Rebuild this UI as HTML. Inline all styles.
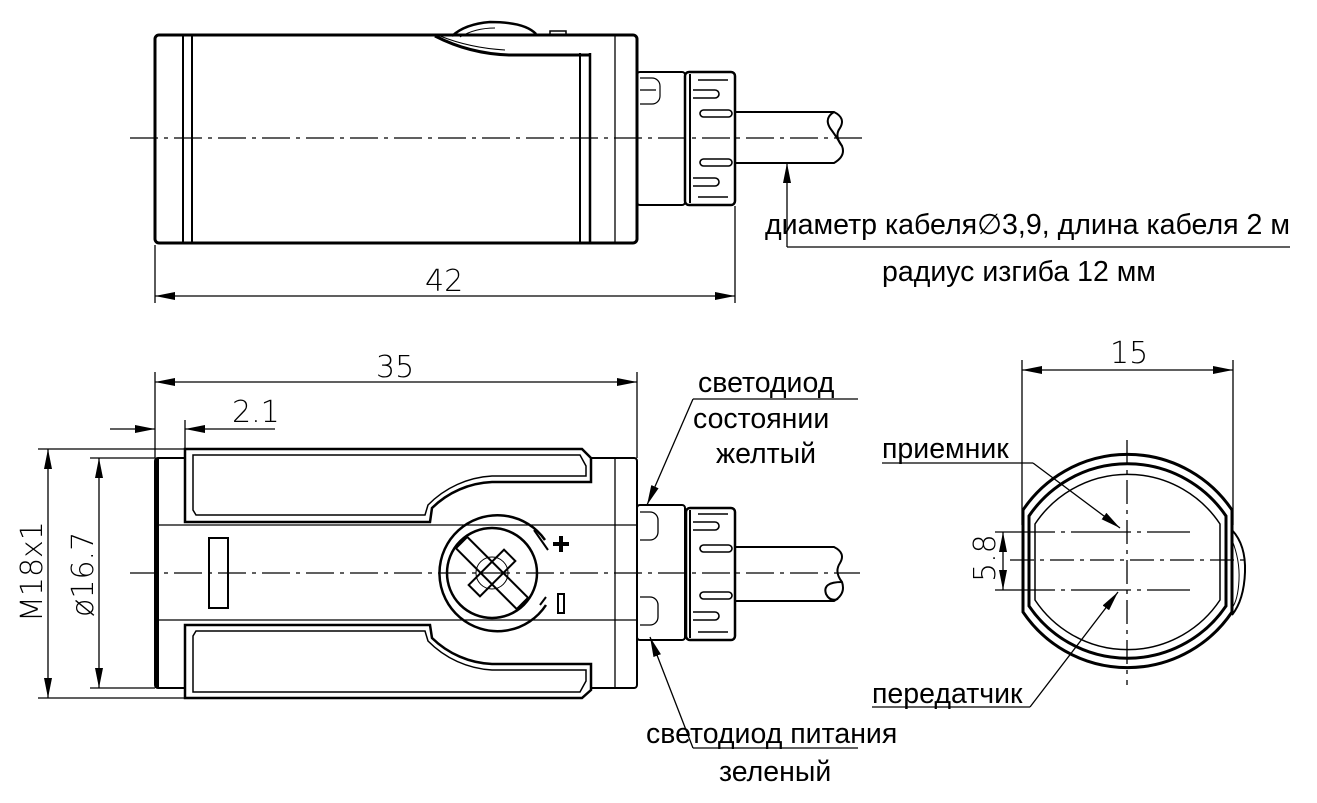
<!DOCTYPE html>
<html><head><meta charset="utf-8"><style>
html,body{margin:0;padding:0;background:#fff;}
svg{display:block;}
text{font-family:"Liberation Sans","DejaVu Sans",sans-serif;fill:#000;}
.t{font-size:28.5px;}
.d{font-size:30px;font-family:"DejaVu Sans","Liberation Sans",sans-serif;font-weight:200;}
</style></head><body>
<svg width="1317" height="803" viewBox="0 0 1317 803" xmlns="http://www.w3.org/2000/svg">
<defs>
<marker id="a" viewBox="0 0 20 8" refX="20" refY="4" markerWidth="20" markerHeight="8" markerUnits="userSpaceOnUse" orient="auto-start-reverse"><path d="M0,0 L20,4 L0,8 Z" fill="#000"/></marker>
</defs>
<g fill="none" stroke="#000" stroke-width="1.3">
<rect x="155" y="35" width="482" height="208" rx="4" stroke-width="3"/>
<line x1="183" y1="36" x2="183" y2="242" stroke-width="2"/>
<line x1="192" y1="36" x2="192" y2="242" stroke-width="2"/>
<line x1="580" y1="53" x2="580" y2="242" stroke-width="2"/>
<line x1="590" y1="53" x2="590" y2="242" stroke-width="2.5"/>
<line x1="615" y1="36" x2="615" y2="242"/>
<path d="M435,36 Q470,54 510,55 L590,55" stroke-width="3"/>
<path d="M440,36 Q470,48 505,50" stroke-width="1"/>
<path d="M452,36 Q465,24 490,22 Q525,22 536,34" stroke-width="2.5"/>
<path d="M460,37 Q475,28 495,28" stroke-width="1"/>
<rect x="550" y="31" width="16" height="4" stroke-width="1.5"/>
<rect x="637" y="72" width="48" height="133" rx="3" stroke-width="2"/>
<path d="M640,78 h12 a8,8 0 0 1 8,8 v10 a8,8 0 0 1 -8,8 h-12" stroke-width="1.2"/>
<line x1="640" y1="90" x2="656" y2="90"/>
<rect x="685" y="72" width="50" height="133" rx="4" stroke-width="2.5"/>
<line x1="690" y1="74" x2="690" y2="203" stroke-width="2"/>
<g stroke-width="1.6">
<path d="M698,80 h30"/><path d="M693,90 h22 a4,4 0 0 1 0,8 h-22"/>
<rect x="700" y="110" width="32" height="7" rx="3.5"/>
<rect x="700" y="159" width="32" height="7" rx="3.5"/>
<path d="M693,178 h22 a4,4 0 0 1 0,8 h-22"/><path d="M698,197 h30"/>
</g>
<path d="M735,112 L834,112 Q846,118 840,128 Q834,136 842,146 Q846,156 834,163 L735,163" stroke-width="2"/>
<path d="M834,112 Q824,118 830,128 Q836,136 842,146" stroke-width="2"/>
<line x1="130" y1="138" x2="868" y2="138" stroke-dasharray="28,6,4,6"/>
<line x1="787" y1="247" x2="787" y2="163" marker-end="url(#a)"/>
<line x1="787" y1="247" x2="1290" y2="247"/>
<line x1="155" y1="245" x2="155" y2="303"/>
<line x1="735" y1="206" x2="735" y2="303"/>
<line x1="155" y1="296" x2="735" y2="296" marker-start="url(#a)" marker-end="url(#a)"/>

<rect x="155" y="458" width="482" height="230" rx="3" stroke-width="2"/>
<line x1="157" y1="458" x2="157" y2="688" stroke-width="4"/>
<line x1="155" y1="525" x2="637" y2="525"/>
<line x1="155" y1="620" x2="637" y2="620"/>
<line x1="615" y1="458" x2="615" y2="688"/>
<path d="M185,449 L582,449 L591,458 L591,482 L492,482 A91,91 0 0 0 432,508 L430,522 L185,522 Z" fill="#fff" stroke-width="2.5"/>
<path d="M193,455 L580,455 L586,466 L586,476 L492,476 A97,97 0 0 0 428,505 L425,515 L196,515 L193,510 Z" stroke-width="1.5"/>
<path d="M185,698 L582,698 L591,690 L591,664 L492,664 A91,91 0 0 1 432,638 L430,625 L185,625 Z" fill="#fff" stroke-width="2.5"/>
<path d="M193,692 L580,692 L586,681 L586,670 L492,670 A97,97 0 0 1 428,641 L425,631 L196,631 L193,636 Z" stroke-width="1.5"/>
<path d="M545,540 A58,58 0 1 0 546,605" stroke-width="2.5"/>
<path d="M534,530 L548,550 M540,605 L546,597" stroke-width="2"/>
<circle cx="492" cy="573" r="45" stroke-width="2.5"/>
<circle cx="492" cy="573" r="16" stroke-width="1"/>
<g transform="rotate(45 492 573)" stroke-width="2">
<rect x="449" y="565" width="86" height="16"/>
<rect x="484" y="548" width="16" height="50"/>
</g>
<path d="M553,544 h16 M561,536 v16" stroke-width="4"/>
<rect x="558" y="594" width="6" height="19" stroke-width="2"/>
<rect x="209" y="538" width="19" height="70" stroke-width="2"/>
<rect x="637" y="505" width="48" height="135" rx="3" stroke-width="2"/>
<path d="M640,512 h10 a8,8 0 0 1 8,8 v12 a8,8 0 0 1 -8,8 h-10"/>
<path d="M640,597 h10 a8,8 0 0 1 8,8 v12 a8,8 0 0 1 -8,8 h-10"/>
<rect x="686" y="508" width="49" height="132" rx="4" stroke-width="2.5"/>
<line x1="690" y1="510" x2="690" y2="638" stroke-width="2"/>
<g stroke-width="1.6">
<path d="M698,514 h30"/><path d="M693,522 h22 a4,4 0 0 1 0,8 h-22"/>
<rect x="700" y="545" width="32" height="7" rx="3.5"/>
<rect x="700" y="592" width="32" height="7" rx="3.5"/>
<path d="M693,612 h22 a4,4 0 0 1 0,8 h-22"/><path d="M698,632 h30"/>
</g>
<path d="M735,547 L834,547 Q846,553 840,563 Q834,572 842,582 Q846,594 834,601 L735,601" stroke-width="2"/>
<path d="M842,582 Q822,582 826,594 Q830,602 838,599" stroke-width="2"/>
<line x1="130" y1="573" x2="860" y2="573" stroke-dasharray="28,6,4,6"/>
<line x1="155" y1="372" x2="155" y2="458"/>
<line x1="637" y1="372" x2="637" y2="458"/>
<line x1="155" y1="382" x2="637" y2="382" marker-start="url(#a)" marker-end="url(#a)"/>
<line x1="185" y1="420" x2="185" y2="449"/>
<line x1="110" y1="429" x2="155" y2="429" marker-end="url(#a)"/>
<line x1="275" y1="429" x2="185" y2="429" marker-end="url(#a)"/>
<line x1="38" y1="449" x2="185" y2="449"/>
<line x1="38" y1="698" x2="185" y2="698"/>
<line x1="48" y1="449" x2="48" y2="698" marker-start="url(#a)" marker-end="url(#a)"/>
<line x1="90" y1="458" x2="155" y2="458"/>
<line x1="90" y1="688" x2="155" y2="688"/>
<line x1="99" y1="458" x2="99" y2="688" marker-start="url(#a)" marker-end="url(#a)"/>
<line x1="693" y1="399" x2="858" y2="399"/>
<line x1="693" y1="399" x2="647" y2="505" marker-end="url(#a)"/>
<line x1="693" y1="748" x2="858" y2="748"/>
<line x1="693" y1="748" x2="650" y2="637" marker-end="url(#a)"/>

<path d="M1023,510 A126,126 0 0 1 1232,510 L1232,612 A126,126 0 0 1 1023,612 Z" stroke-width="3"/>
<path d="M1029,516 A119,119 0 0 1 1226,516 L1226,606 A119,119 0 0 1 1029,606 Z" stroke-width="3"/>
<path d="M1035,524 A111,111 0 0 1 1220,524 L1220,600 A111,111 0 0 1 1035,600 Z" stroke-width="1.5"/>
<path d="M1232,530 Q1246,545 1245,572 Q1244,600 1232,615" stroke-width="2"/>
<path d="M1232,540 Q1240,560 1239,580 Q1238,600 1232,608" stroke-width="1"/>
<line x1="1127" y1="440" x2="1127" y2="685" stroke-dasharray="24,6,4,6"/>
<line x1="1010" y1="560" x2="1250" y2="560" stroke-dasharray="24,6,4,6"/>
<line x1="995" y1="532" x2="1190" y2="532" stroke-dasharray="60,6,4,6"/>
<line x1="995" y1="590" x2="1190" y2="590" stroke-dasharray="60,6,4,6"/>
<line x1="1003" y1="532" x2="1003" y2="590" marker-start="url(#a)" marker-end="url(#a)"/>
<line x1="1022" y1="360" x2="1022" y2="525"/>
<line x1="1233" y1="360" x2="1233" y2="525"/>
<line x1="1022" y1="370" x2="1233" y2="370" marker-start="url(#a)" marker-end="url(#a)"/>
<line x1="882" y1="463" x2="1033" y2="463"/>
<line x1="1033" y1="463" x2="1120" y2="528" marker-end="url(#a)"/>
<line x1="872" y1="707" x2="1030" y2="707"/>
<line x1="1030" y1="707" x2="1118" y2="592" marker-end="url(#a)"/>
</g>

<text class="t" x="765" y="234" textLength="525" lengthAdjust="spacingAndGlyphs">диаметр кабеля∅3,9, длина кабеля 2 м</text>
<text class="t" x="882" y="281">радиус изгиба 12 мм</text>
<text class="d" x="425" y="291">42</text>
<text class="d" x="376" y="377">35</text>
<text class="d" x="232" y="422">2.1</text>
<text class="d" transform="translate(42,622) rotate(-90)">M18x1</text>
<text class="d" transform="translate(93,617) rotate(-90)">ø16.7</text>
<text class="t" x="698" y="392">светодиод</text>
<text class="t" x="693" y="428">состоянии</text>
<text class="t" x="716" y="463">желтый</text>
<text class="t" x="646" y="743">светодиод питания</text>
<text class="t" x="719" y="781">зеленый</text>
<text class="d" x="1110" y="363">15</text>
<text class="d" transform="translate(995,582) rotate(-90)">5.8</text>
<text class="t" x="882" y="458">приемник</text>
<text class="t" x="872" y="703">передатчик</text>
</svg>
</body></html>
